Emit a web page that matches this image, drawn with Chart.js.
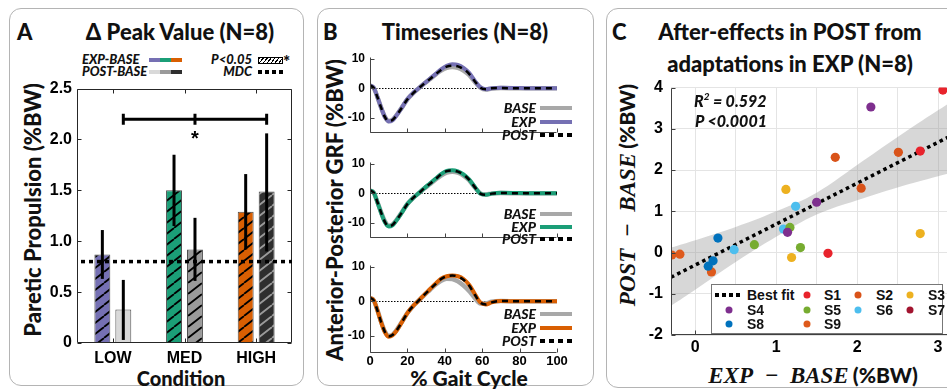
<!DOCTYPE html>
<html lang="en">
<head>
<meta charset="UTF-8" />
<title>Propulsion after-effects</title>
<script src="https://cdn.jsdelivr.net/npm/chart.js"></script>
<style>
    body { margin: 0; width: 947px; height: 390px; overflow: hidden; background: #fff; position: relative;
           font-family: Lato, "Open Sans", sans-serif; color: #111; }
    .panel { position: absolute; border: 1.5px solid #b4b4b4; border-radius: 12px; }
    canvas { position: absolute; }
    .t { position: absolute; white-space: nowrap; line-height: 1.2; transform: translateY(-50%); }
    .c { position: absolute; white-space: nowrap; line-height: 1.2; transform: translate(-50%, -50%); }
    .rt { position: absolute; white-space: nowrap; line-height: 1.2; transform: translate(-50%, -50%) rotate(-90deg); }
    .big { font-weight: 900; font-size: 22px; }
    .leg { font-weight: 900; font-style: italic; font-size: 13px; }
    .sw { position: absolute; }
    .mth { font-family: "Liberation Serif", serif; font-style: italic; font-weight: 700; font-size: 23px; }
    .lg { font-family: "Liberation Sans", Arial, sans-serif; font-weight: 700; font-size: 14px; }
    .dot { position: absolute; width: 7px; height: 7px; border-radius: 50%; transform: translate(-50%, -50%); }
</style>
</head>
<body>
    <div class="panel" style="left:9px;top:8px;width:293px;height:376px"></div>
    <div class="panel" style="left:317px;top:8px;width:275px;height:376px"></div>
    <div class="panel" style="left:606px;top:8px;width:400px;height:378px"></div>

    <!-- panel A -->
    <div class="t big" style="left:17px;top:32px">A</div>
    <div class="c big" style="left:180px;top:32px">Δ Peak Value (N=8)</div>
    <div class="t leg" style="left:82px;top:60px">EXP-BASE</div>
    <div class="t leg" style="left:82px;top:72px">POST-BASE</div>
    <div class="sw" style="left:149px;top:58px;width:11px;height:4px;background:#7570b3"></div>
    <div class="sw" style="left:160px;top:58px;width:11px;height:4px;background:#1b9e77"></div>
    <div class="sw" style="left:171px;top:58px;width:11px;height:4px;background:#d95f02"></div>
    <div class="sw" style="left:149px;top:70px;width:11px;height:4px;background:#d9d9d9"></div>
    <div class="sw" style="left:160px;top:70px;width:11px;height:4px;background:#9a9a9a"></div>
    <div class="sw" style="left:171px;top:70px;width:11px;height:4px;background:#2e2e2e"></div>
    <div class="t leg" style="right:695px;top:60px">P&lt;0.05</div>
    <div class="t leg" style="right:695px;top:72px">MDC</div>
    <div class="sw" style="left:258px;top:57px;width:23px;height:5px;border:1px solid #000;background:repeating-linear-gradient(-50deg,#fff 0 2px,#000 2px 3px)"></div>
    <div class="t" style="left:283px;top:62px;font-weight:900;font-size:17px">*</div>
    <div class="sw" style="left:258px;top:70px;width:28px;height:4px;background:repeating-linear-gradient(to right,#000 0 4px,transparent 4px 7px)"></div>
    <div class="rt big" style="left:33px;top:210px">Paretic Propulsion (%BW)</div>
    <div class="c" style="left:181px;top:378px;font-weight:900;font-size:20px">Condition</div>
    <canvas id="peakChart" width="280" height="304" style="left:20px;top:74px"></canvas>

    <!-- panel B -->
    <div class="t big" style="left:323px;top:32px">B</div>
    <div class="c big" style="left:465px;top:32px">Timeseries (N=8)</div>
    <div class="rt" style="left:335px;top:210px;font-weight:900;font-size:22px">Anterior-Posterior GRF (%BW)</div>
    <div class="c" style="left:469px;top:378px;font-weight:900;font-size:21px">% Gait Cycle</div>
    <canvas id="gaitLow" width="240" height="100" style="left:340px;top:45px"></canvas>
    <canvas id="gaitMed" width="240" height="100" style="left:340px;top:150px"></canvas>
    <canvas id="gaitHigh" width="240" height="120" style="left:340px;top:253px"></canvas>
    <div id="gaitLegends"></div>

    <!-- panel C -->
    <div class="t big" style="left:612px;top:32px">C</div>
    <div class="c big" style="left:790px;top:32px">After-effects in POST from</div>
    <div class="c big" style="left:790px;top:64px">adaptations in EXP (N=8)</div>
    <div class="rt" style="left:628px;top:195px"><span class="mth">POST&nbsp;&nbsp;−&nbsp;&nbsp;BASE</span> <span style="font-weight:900;font-size:21px">(%BW)</span></div>
    <div class="c" style="left:813px;top:376px"><span class="mth">EXP&nbsp;&nbsp;−&nbsp;&nbsp;BASE</span> <span style="font-weight:900;font-size:21px">(%BW)</span></div>
    <canvas id="effectChart" width="365" height="290" style="left:610px;top:70px"></canvas>
    <div class="t" style="left:694px;top:100px;font-weight:900;font-style:italic;font-size:16px">R<sup style="font-size:10px">2</sup> = 0.592</div>
    <div class="t" style="left:695px;top:121px;font-weight:900;font-style:italic;font-size:16px">P &lt;0.0001</div>
    <div id="effectLegend" style="position:absolute;left:711px;top:284px;width:230px;height:48px;border:1px solid #777;background:#fff"></div>

<script>
    const tickFam = '"Liberation Sans", Arial, sans-serif';
    Chart.defaults.font.family = tickFam;
    Chart.defaults.font.weight = 'bold';
    Chart.defaults.font.size = 16;
    Chart.defaults.color = '#000';

    // ---- panel A data ----
    const conditions = ['LOW', 'MED', 'HIGH'];
    const expBase = [0.87, 1.50, 1.29];
    const postBase = [0.33, 0.92, 1.49];
    const expLo = [0.63, 1.15, 0.92];
    const expHi = [1.11, 1.85, 1.66];
    const postLo = [0.03, 0.61, 0.90];
    const postHi = [0.62, 1.23, 2.06];
    const expSig = [true, true, true];
    const postSig = [false, true, true];
    const mdc = 0.8;
    const bracketY = 2.2;

    // ---- panel B data ----
    const gaitPct = [0, 2, 4, 6, 8, 10, 12, 14, 17, 20, 23, 26, 29, 32, 35, 38, 41, 44, 47, 50, 53, 56, 59, 62, 65, 70, 80, 90, 100];
    const gaitTicks = [0, 20, 40, 60, 80, 100];
    const grfTicks = [-10, 0, 10];
    const base1 = [1.0, 0.1, -3.0, -6.6, -9.6, -11.0, -10.6, -9.2, -6.5, -3.7, -1.7, 0.0, 1.6, 3.1, 4.6, 6.0, 6.9, 7.2, 6.9, 6.0, 4.5, 2.2, 0.2, -0.4, -0.1, 0.1, 0.0, 0.0, 0.0];
    const exp1 = [1.0, 0.2, -3.0, -6.6, -9.7, -11.2, -10.8, -9.3, -6.5, -3.6, -1.6, 0.0, 1.6, 3.2, 4.8, 6.4, 7.6, 8.1, 7.9, 6.9, 5.2, 2.6, 0.4, -0.3, 0.0, 0.2, 0.1, 0.0, 0.0];
    const post1 = [1.0, 0.1, -3.0, -6.6, -9.7, -11.1, -10.7, -9.3, -6.6, -3.7, -1.7, 0.0, 1.6, 3.1, 4.7, 6.2, 7.3, 7.6, 7.4, 6.5, 4.9, 2.4, 0.2, -0.3, 0.0, 0.1, 0.0, 0.0, 0.0];
    const base2 = [1.0, 0.2, -3.0, -6.5, -9.5, -10.9, -10.5, -9.1, -6.4, -3.6, -1.6, 0.0, 1.6, 3.1, 4.6, 6.0, 7.0, 7.3, 7.0, 6.0, 4.4, 2.0, 0.0, -0.4, -0.1, 0.1, 0.0, 0.0, 0.0];
    const exp2 = [1.0, 0.2, -3.1, -6.7, -9.8, -11.2, -10.8, -9.3, -6.5, -3.6, -1.6, 0.0, 1.7, 3.3, 4.9, 6.5, 7.6, 7.8, 7.4, 6.4, 4.7, 2.2, -0.1, -0.5, -0.1, 0.2, 0.1, 0.0, 0.0];
    const post2 = [1.0, 0.2, -3.0, -6.6, -9.7, -11.1, -10.7, -9.2, -6.5, -3.6, -1.6, 0.0, 1.7, 3.2, 4.8, 6.4, 7.5, 7.7, 7.3, 6.3, 4.6, 2.1, -0.1, -0.5, -0.1, 0.1, 0.0, 0.0, 0.0];
    const base3 = [1.0, 0.3, -2.6, -6.0, -8.8, -10.0, -9.7, -8.5, -6.0, -3.4, -1.4, 0.2, 1.8, 3.3, 4.8, 6.0, 6.6, 6.5, 5.8, 4.6, 3.0, 1.0, -0.6, -0.6, -0.1, 0.1, 0.0, 0.0, 0.0];
    const exp3 = [1.0, 0.3, -2.7, -6.2, -9.0, -10.3, -9.9, -8.7, -6.1, -3.4, -1.4, 0.2, 1.9, 3.5, 5.1, 6.6, 7.3, 7.5, 7.3, 6.5, 4.8, 2.2, -0.3, -0.9, -0.3, 0.1, 0.0, 0.0, 0.0];
    const post3 = [1.0, 0.3, -2.7, -6.1, -8.9, -10.2, -9.8, -8.6, -6.1, -3.4, -1.4, 0.2, 1.9, 3.5, 5.0, 6.5, 7.3, 7.5, 7.2, 6.3, 4.6, 2.0, -0.4, -0.9, -0.3, 0.1, 0.0, 0.0, 0.0];

    // ---- panel C data ----
    const subjects = ['S1', 'S2', 'S3', 'S4', 'S5', 'S6', 'S7', 'S8', 'S9'];
    const subjectColors = ['#e8232c', '#d95319', '#edb120', '#7e2f8e', '#77ac30', '#4dbeee', '#a2142f', '#0072bd', '#de5a1c'];
    // EXP-BASE (x) and POST-BASE (y) per subject, LOW/MED/HIGH
    const subjectExp = [[3.06, 2.78, 1.64], [1.73, 2.51, 2.05], [1.12, 1.19, 2.78], [2.17, 1.50, 1.14], [1.17, 0.73, 1.30],
                        [1.24, 1.09, 0.48], [], [0.28, 0.22, 0.16], [-0.29, -0.19, 0.20]];
    const subjectPost = [[3.94, 2.46, -0.02], [2.31, 2.43, 1.56], [1.53, -0.12, 0.46], [3.53, 1.22, 0.49], [0.61, 0.19, 0.12],
                         [1.12, 0.57, 0.07], [], [0.35, -0.20, -0.33], [-0.06, -0.04, -0.47]];
    const fitX = [-0.3, 3.4];
    const fitY = [-0.6, 3.07];
    const bandX = [-0.3, 0, 0.5, 1.0, 1.5, 2.0, 2.5, 3.0, 3.4];
    const bandHi = [0.12, 0.30, 0.62, 1.00, 1.45, 2.12, 2.80, 3.45, 3.95];
    const bandLo = [-1.29, -0.90, -0.23, 0.38, 0.92, 1.27, 1.58, 1.85, 2.05];
    const effTicksX = [0, 0.5, 1, 1.5, 2, 2.5, 3];
    const effTicksY = [-2, -1, 0, 1, 2, 3, 4];

    const tickFont = size => ({ family: tickFam, size: size, weight: 'bold' });

    // axis frame with inward tick marks (matlab look)
    const frame = {
        id: 'frame',
        afterDatasetsDraw(chart, args, o) {
            const { ctx, chartArea: a, scales: { x, y } } = chart;
            const len = 4;
            const L = Math.round(a.left) + 0.5, B = Math.round(a.bottom) - 0.5;
            const R = Math.round(a.right) - 0.5, T = Math.round(a.top) + 0.5;
            ctx.save();
            ctx.strokeStyle = o.color || '#262626';
            ctx.lineWidth = 1;
            ctx.beginPath();
            ctx.moveTo(L, T); ctx.lineTo(L, B); ctx.lineTo(R, B);
            if (o.box) { ctx.lineTo(R, T); ctx.lineTo(L, T); }
            x.ticks.forEach((t, i) => {
                const px = Math.round(x.getPixelForTick(i)) + 0.5;
                ctx.moveTo(px, B); ctx.lineTo(px, B - len);
                if (o.box) { ctx.moveTo(px, T); ctx.lineTo(px, T + len); }
            });
            y.ticks.forEach((t, i) => {
                const py = Math.round(y.getPixelForTick(i)) + 0.5;
                ctx.moveTo(L, py); ctx.lineTo(L + len, py);
                if (o.box) { ctx.moveTo(R, py); ctx.lineTo(R - len, py); }
            });
            ctx.stroke();
            ctx.restore();
        }
    };

    function hatch(base, line) {
        const w = 14, h = 11;
        const c = document.createElement('canvas');
        c.width = w; c.height = h;
        const g = c.getContext('2d');
        g.fillStyle = base;
        g.fillRect(0, 0, w, h);
        g.strokeStyle = line;
        g.lineWidth = 1.8;
        g.beginPath();
        [-w, 0, w].forEach(o => { g.moveTo(o, h); g.lineTo(o + w, 0); });
        g.stroke();
        return g.createPattern(c, 'repeat');
    }

    const expColors = ['#7570b3', '#1b9e77', '#d95f02'];
    const postColors = ['#d9d9d9', '#9a9a9a', '#2e2e2e'];
    const postHatch = ['#000', '#000', '#9a9a9a'];
    const expFill = expColors.map((c, i) => expSig[i] ? hatch(c, '#000') : c);
    const postFill = postColors.map((c, i) => postSig[i] ? hatch(c, postHatch[i]) : c);

    const peakExtras = {
        id: 'peakExtras',
        afterDatasetsDraw(chart) {
            const { ctx, chartArea: a, scales: { y } } = chart;
            const metas = [chart.getDatasetMeta(0), chart.getDatasetMeta(1)];
            const lows = [expLo, postLo], highs = [expHi, postHi];
            ctx.save();
            ctx.strokeStyle = '#000';
            ctx.lineWidth = 3;
            metas.forEach((m, d) => m.data.forEach((bar, i) => {
                ctx.beginPath();
                ctx.moveTo(bar.x, y.getPixelForValue(lows[d][i]));
                ctx.lineTo(bar.x, y.getPixelForValue(highs[d][i]));
                ctx.stroke();
            }));
            // MDC line
            const ym = y.getPixelForValue(mdc);
            ctx.setLineDash([4, 4]);
            ctx.lineWidth = 3.5;
            ctx.beginPath();
            ctx.moveTo(a.left + 4, ym); ctx.lineTo(a.right, ym);
            ctx.stroke();
            ctx.setLineDash([]);
            // significance bracket across POST bars
            const post = metas[1].data;
            const yb = y.getPixelForValue(bracketY);
            ctx.lineWidth = 3;
            ctx.beginPath();
            ctx.moveTo(post[0].x, yb); ctx.lineTo(post[2].x, yb);
            post.forEach(b => { ctx.moveTo(b.x, yb - 5.5); ctx.lineTo(b.x, yb + 5.5); });
            ctx.stroke();
            ctx.fillStyle = '#000';
            ctx.font = `bold 20px ${tickFam}`;
            ctx.textAlign = 'center';
            ctx.textBaseline = 'middle';
            ctx.fillText('*', post[1].x, yb + 20);
            ctx.restore();
        }
    };

    new Chart(document.getElementById('peakChart'), {
        type: 'bar',
        data: {
            labels: conditions,
            datasets: [
                { label: 'EXP-BASE', data: expBase, backgroundColor: expFill, borderColor: '#4d4d4d', borderWidth: 1,
                  barPercentage: 0.76, categoryPercentage: 0.585 },
                { label: 'POST-BASE', data: postBase, backgroundColor: postFill, borderColor: '#4d4d4d', borderWidth: 1,
                  barPercentage: 0.76, categoryPercentage: 0.585 }
            ]
        },
        options: {
            responsive: false,
            animation: false,
            layout: { padding: { top: 11, right: 8 } },
            plugins: { legend: { display: false }, tooltip: { enabled: false }, frame: { box: true } },
            scales: {
                x: {
                    grid: { display: false, drawTicks: false },
                    border: { display: false },
                    ticks: { color: '#000', font: tickFont(16), padding: 6 },
                    afterFit: s => { s.height = 35; }
                },
                y: {
                    min: 0, max: 2.5,
                    ticks: { stepSize: 0.5, color: '#000', font: tickFont(16), padding: 5 },
                    grid: { display: false, drawTicks: false },
                    border: { display: false },
                    afterFit: s => { s.width = 57; }
                }
            }
        },
        plugins: [frame, peakExtras]
    });

    // ---- panel B ----
    const zeroLine = {
        id: 'zeroLine',
        beforeDatasetsDraw(chart) {
            const { ctx, chartArea: a, scales: { y } } = chart;
            const yz = Math.round(y.getPixelForValue(0)) + 0.5;
            ctx.save();
            ctx.strokeStyle = '#000';
            ctx.lineWidth = 1;
            ctx.setLineDash([1.5, 1.5]);
            ctx.beginPath();
            ctx.moveTo(a.left, yz); ctx.lineTo(a.right, yz);
            ctx.stroke();
            ctx.restore();
        }
    };

    function gaitChart(id, base, exp, post, color, showX) {
        const pts = arr => gaitPct.map((p, i) => ({ x: p, y: arr[i] }));
        new Chart(document.getElementById(id), {
            type: 'line',
            data: {
                datasets: [
                    { label: 'BASE', data: pts(base), borderColor: '#a8a8a8', borderWidth: 4.5, order: 3 },
                    { label: 'EXP', data: pts(exp), borderColor: color, borderWidth: 4, order: 2 },
                    { label: 'POST', data: pts(post), borderColor: '#000', borderWidth: 2.5, borderDash: [6, 5], order: 1 }
                ]
            },
            options: {
                responsive: false,
                animation: false,
                layout: { padding: { top: 10, right: 23 } },
                elements: { point: { radius: 0 }, line: { cubicInterpolationMode: 'monotone', borderCapStyle: 'butt' } },
                plugins: { legend: { display: false }, tooltip: { enabled: false }, frame: { color: '#444' } },
                scales: {
                    x: {
                        type: 'linear', min: 0, max: 100,
                        afterBuildTicks: s => { s.ticks = gaitTicks.map(v => ({ value: v })); },
                        ticks: { display: showX, color: '#000', font: tickFont(13), padding: 1, maxRotation: 0 },
                        grid: { display: false, drawTicks: false },
                        border: { display: false },
                        afterFit: s => { s.height = showX ? 20 : 2; }
                    },
                    y: {
                        min: -15, max: 10.5,
                        afterBuildTicks: s => { s.ticks = grfTicks.map(v => ({ value: v })); },
                        ticks: { color: '#000', font: tickFont(12), padding: 5 },
                        grid: { display: false, drawTicks: false },
                        border: { display: false },
                        afterFit: s => { s.width = 30; }
                    }
                }
            },
            plugins: [zeroLine, frame]
        });
    }

    gaitChart('gaitLow', base1, exp1, post1, expColors[0], false);
    gaitChart('gaitMed', base2, exp2, post2, expColors[1], false);
    gaitChart('gaitHigh', base3, exp3, post3, expColors[2], true);

    // small legends inside each timeseries plot
    const legendRows = [[108, 122, 135], [214, 227, 239], [314, 328, 341]];
    const holder = document.getElementById('gaitLegends');
    legendRows.forEach((rows, k) => {
        const swatches = ['#a8a8a8', expColors[k], 'repeating-linear-gradient(to right,#000 0 5px,transparent 5px 9px)'];
        ['BASE', 'EXP', 'POST'].forEach((name, r) => {
            holder.insertAdjacentHTML('beforeend',
                `<div class="t leg" style="right:411px;top:${rows[r]}px;font-size:14px">${name}</div>` +
                `<div class="sw" style="left:540px;top:${rows[r] - 2}px;width:32px;height:4px;background:${swatches[r]}"></div>`);
        });
    });

    // ---- panel C ----
    const subjectSets = subjects.map((s, k) => ({
        label: s,
        data: subjectExp[k].map((v, i) => ({ x: v, y: subjectPost[k][i] })),
        backgroundColor: subjectColors[k],
        borderWidth: 0,
        pointRadius: 4.6,
        order: 1
    }));

    new Chart(document.getElementById('effectChart'), {
        type: 'scatter',
        data: {
            datasets: [
                ...subjectSets,
                { label: 'Best fit', data: fitX.map((v, i) => ({ x: v, y: fitY[i] })), showLine: true, borderColor: '#000',
                  borderWidth: 3.5, borderDash: [3.5, 3.5], pointRadius: 0, order: 2 },
                { label: 'ci-hi', data: bandX.map((v, i) => ({ x: v, y: bandHi[i] })), showLine: true, borderWidth: 0,
                  fill: '+1', backgroundColor: 'rgba(150,150,150,0.38)', pointRadius: 0, tension: 0.4, order: 3 },
                { label: 'ci-lo', data: bandX.map((v, i) => ({ x: v, y: bandLo[i] })), showLine: true, borderWidth: 0,
                  pointRadius: 0, tension: 0.4, order: 3 }
            ]
        },
        options: {
            responsive: false,
            animation: false,
            layout: { padding: { top: 10 } },
            plugins: { legend: { display: false }, tooltip: { enabled: false }, frame: { color: '#404040' } },
            scales: {
                x: {
                    type: 'linear', min: -0.3, max: 3.4,
                    afterBuildTicks: s => { s.ticks = effTicksX.map(v => ({ value: v })); },
                    ticks: { callback: v => Number.isInteger(v) ? v : '', autoSkip: false, maxRotation: 0,
                             color: '#000', font: tickFont(16), padding: 3 },
                    grid: { color: '#e4e4e4', drawTicks: false },
                    border: { display: false },
                    afterFit: s => { s.height = 25; }
                },
                y: {
                    min: -2, max: 4,
                    afterBuildTicks: s => { s.ticks = effTicksY.map(v => ({ value: v })); },
                    ticks: { color: '#000', font: tickFont(16), padding: 8 },
                    grid: { color: '#e4e4e4', drawTicks: false },
                    border: { display: false },
                    afterFit: s => { s.width = 61; }
                }
            }
        },
        plugins: [frame]
    });

    // legend box of panel C (positions relative to the box)
    const effLegend = document.getElementById('effectLegend');
    const legRowsY = [10, 25, 39];
    const legCols = [[17, 35], [95, 112], [146, 164], [198, 216]];
    effLegend.insertAdjacentHTML('beforeend',
        `<div class="sw" style="left:3px;top:${legRowsY[0] - 2}px;width:28px;height:4px;background:repeating-linear-gradient(to right,#000 0 4px,transparent 4px 7px)"></div>` +
        `<div class="t lg" style="left:35px;top:${legRowsY[0]}px">Best fit</div>`);
    subjects.forEach((s, k) => {
        const slot = k + 1;
        const r = Math.floor(slot / 4), c = slot % 4;
        effLegend.insertAdjacentHTML('beforeend',
            `<div class="dot" style="left:${legCols[c][0]}px;top:${legRowsY[r]}px;background:${subjectColors[k]}"></div>` +
            `<div class="t lg" style="left:${legCols[c][1]}px;top:${legRowsY[r]}px">${s}</div>`);
    });
</script>
</body>
</html>
